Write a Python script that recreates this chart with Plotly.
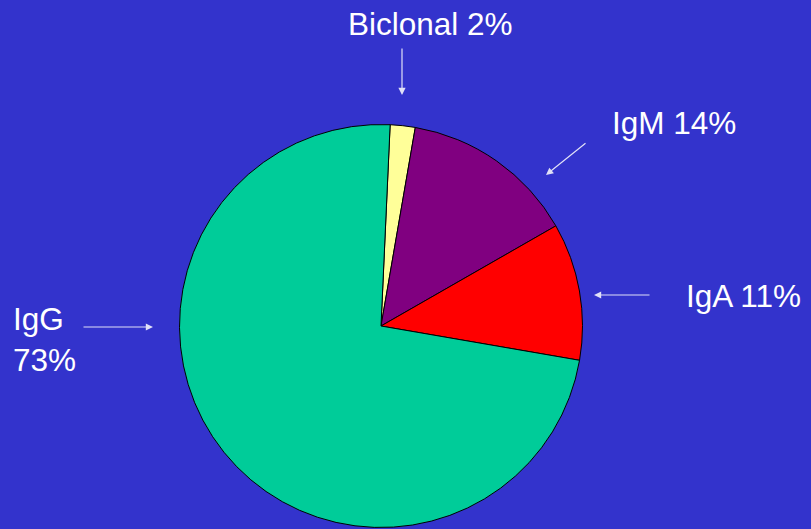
import plotly.graph_objects as go

labels = ["Biclonal", "IgM", "IgA", "IgG"]
values = [2, 14, 11, 73]
colors = ["#FFFF99", "#800080", "#FF0000", "#00CC99"]

W, H = 811, 529
cx, cy, r = 381, 326, 201.5

def px(x):
    return x / W

def py(y):
    return 1 - y / H

fig = go.Figure(go.Pie(
    labels=labels, values=values, sort=False, direction="clockwise",
    rotation=2.6, textinfo="none", hoverinfo="label+percent",
    marker=dict(colors=colors, line=dict(color="#000000", width=1)),
    domain=dict(x=[px(cx - r), px(cx + r)], y=[py(cy + r), py(cy - r)]),
    showlegend=False,
))

font = dict(family="Liberation Sans, Arial, sans-serif", size=31.5, color="white")
texts = [
    ("Biclonal 2%", 430.5, 24, "center"),
    ("IgM 14%", 674, 122.5, "center"),
    ("IgA 11%", 743.5, 296, "center"),
    ("IgG<br>73%", 11, 339, "left"),
]
anns = []
for t, x, y, xa in texts:
    anns.append(dict(text=t, x=px(x), y=py(y), xref="paper", yref="paper",
                     xanchor=xa, yanchor="middle", align="left", showarrow=False,
                     font=font))

arrows = [
    ((402, 47), (402, 95)),
    ((587, 142), (546, 175)),
    ((651, 295), (594, 295)),
    ((82, 327), (153, 327)),
]
for (x0, y0), (x1, y1) in arrows:
    anns.append(dict(text="", x=px(x1), y=py(y1), xref="paper", yref="paper",
                     ax=x0 - x1, ay=y0 - y1, axref="pixel", ayref="pixel",
                     showarrow=True, arrowhead=2, arrowsize=1.2, arrowwidth=1.2,
                     arrowcolor="rgba(255,255,255,0.85)"))

fig.update_layout(
    width=W, height=H, margin=dict(l=0, r=0, t=0, b=0),
    paper_bgcolor="#3333CC", plot_bgcolor="#3333CC",
    annotations=anns,
)
fig.write_html("out.html", config={"displayModeBar": False},
               post_script="document.body.style.margin='0';document.body.style.overflow='hidden';document.body.style.background='#3333CC';")
